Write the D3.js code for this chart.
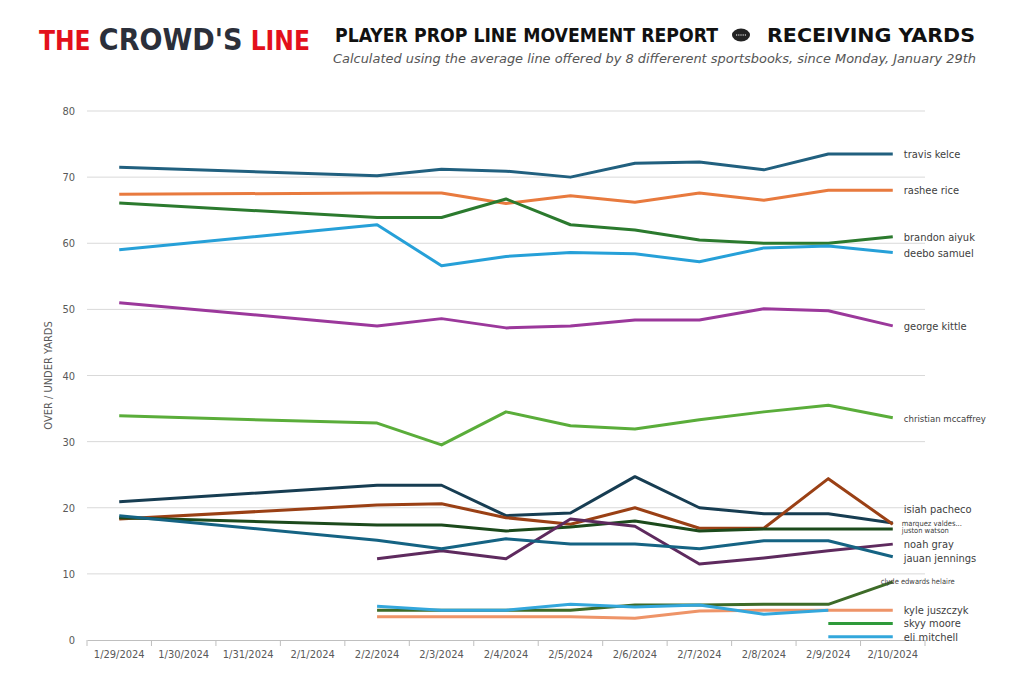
<!DOCTYPE html>
<html><head><meta charset="utf-8">
<script src="https://cdn.jsdelivr.net/npm/d3@7"></script>
<style>
body{margin:0;background:#fff;}
text{font-family:"DejaVu Sans Condensed","DejaVu Sans",sans-serif;}
</style></head>
<body><svg width="1017" height="691"></svg>
<script>
var dates = ["1/29/2024","1/30/2024","1/31/2024","2/1/2024","2/2/2024","2/3/2024","2/4/2024","2/5/2024","2/6/2024","2/7/2024","2/8/2024","2/9/2024","2/10/2024"]
var yTicks = [0,10,20,30,40,50,60,70,80]
var N = null
// values per date (null = no reading that day)
var travisKelce   = [71.5,N,N,N,70.2,71.2,70.9,70.0,72.1,72.3,71.1,73.5,73.5]
var rasheeRice    = [67.4,N,N,N,67.6,67.6,66.0,67.2,66.2,67.6,66.5,68.0,68.0]
var brandonAiyuk  = [66.1,N,N,N,63.9,63.9,66.7,62.8,62.0,60.5,60.0,60.0,61.0]
var deeboSamuel   = [59.0,N,N,N,62.8,56.6,58.0,58.6,58.4,57.2,59.3,59.6,58.6]
var georgeKittle  = [51.0,N,N,N,47.5,48.6,47.2,47.5,48.4,48.4,50.1,49.8,47.5]
var mccaffrey     = [33.9,N,N,N,32.8,29.5,34.5,32.4,31.9,33.3,34.5,35.5,33.6]
var isiahPacheco  = [20.9,N,N,N,23.4,23.4,18.8,19.2,24.7,20.0,19.1,19.1,17.7]
var marquezValdes = [18.3,N,N,N,20.4,20.6,18.5,17.5,20.0,16.9,16.9,24.4,17.5]
var justonWatson  = [18.5,N,N,N,17.4,17.4,16.5,17.1,18.0,16.5,16.8,16.8,16.8]
var noahGray      = [N,N,N,N,12.3,13.5,12.3,18.3,17.2,11.5,12.4,13.5,14.5]
var jauanJennings = [18.8,N,N,N,15.1,13.8,15.3,14.5,14.5,13.8,15.0,15.0,12.6]
var clydeEdwards  = [N,N,N,N,4.5,4.5,4.5,4.5,5.3,5.3,5.4,5.4,8.8]
var kyleJuszczyk  = [N,N,N,N,3.5,3.5,3.5,3.5,3.3,4.4,4.5,4.5,4.5]
var eliMitchell   = [N,N,N,N,5.1,4.5,4.5,5.4,5.0,5.3,3.9,4.5,N]
var skyyMoore     = [N,N,N,N,N,N,N,N,N,N,N,N,N]

var series = [
  {name:"travis kelce", values:travisKelce, color:"#21607f", label:73.5},
  {name:"rashee rice", values:rasheeRice, color:"#e87a3e", label:68.0},
  {name:"brandon aiyuk", values:brandonAiyuk, color:"#2b7a2e", label:61.0},
  {name:"deebo samuel", values:deeboSamuel, color:"#26a0d8", label:58.5},
  {name:"george kittle", values:georgeKittle, color:"#9b389b", label:47.5},
  {name:"christian mccaffrey", values:mccaffrey, color:"#5aad3a", label:33.6, small:true},
  {name:"isiah pacheco", values:isiahPacheco, color:"#173d52", label:19.8},
  {name:"marquez valdes...", values:marquezValdes, color:"#9a4015", label:17.6, tiny:true},
  {name:"juston watson", values:justonWatson, color:"#1c4a1c", label:16.5, tiny:true},
  {name:"noah gray", values:noahGray, color:"#5e2a5e", label:14.5},
  {name:"jauan jennings", values:jauanJennings, color:"#156383", label:12.4},
  {name:"clyde edwards helaire", values:clydeEdwards, color:"#3d6b28", label:8.8, tiny:true, shift:-12},
  {name:"kyle juszczyk", values:kyleJuszczyk, color:"#ee9468", label:4.5},
  {name:"skyy moore", values:skyyMoore, color:"#2e9a3a", label:2.5, legend:true},
  {name:"eli mitchell", values:eliMitchell, color:"#33a7dc", label:0.5, legend:true}
]

var svg = d3.select("svg")
var margin = {top:111, left:87, right:925, bottom:640}
var x = d3.scaleBand().domain(dates).range([margin.left, margin.right])
var y = d3.scaleLinear().domain([0,80]).range([margin.bottom, margin.top])
var cx = function(d){ return x(d) + x.bandwidth()/2 }

// header
var h = svg.append("text").attr("x",39).attr("y",50).attr("font-size",26).attr("font-weight","bold")
  .attr("textLength",271).attr("lengthAdjust","spacingAndGlyphs")
h.append("tspan").attr("fill","#e3101b").text("THE ")
h.append("tspan").attr("fill","#2b2f3a").attr("font-size",30).text("CROWD'S")
h.append("tspan").attr("fill","#e3101b").text(" LINE")
svg.append("text").attr("x",335).attr("y",42).attr("font-size",19).attr("font-weight","bold").attr("fill","#111")
  .attr("textLength",383).attr("lengthAdjust","spacingAndGlyphs")
  .text("PLAYER PROP LINE MOVEMENT REPORT")
svg.append("ellipse").attr("cx",741).attr("cy",35).attr("rx",9).attr("ry",6.5).attr("fill","#222")
svg.append("line").attr("x1",736).attr("x2",746).attr("y1",35).attr("y2",35).attr("stroke","#fff").attr("stroke-width",1.2).attr("stroke-dasharray","1.2,1")
svg.append("text").attr("x",767).attr("y",42).attr("font-size",19).attr("font-weight","bold").attr("fill","#111")
  .attr("textLength",208).attr("lengthAdjust","spacingAndGlyphs").text("RECEIVING YARDS")
svg.append("text").attr("x",333).attr("y",63).attr("font-size",13).attr("font-style","italic").attr("fill","#555")
  .attr("textLength",643).attr("lengthAdjust","spacingAndGlyphs")
  .text("Calculated using the average line offered by 8 differerent sportsbooks, since Monday, January 29th")

// grid
svg.append("g").selectAll("line").data(yTicks.slice(1)).join("line")
  .attr("x1",margin.left).attr("x2",margin.right).attr("y1",y).attr("y2",y)
  .attr("stroke","#d9d9d9")
svg.append("g").selectAll("text").data(yTicks).join("text")
  .attr("x",75).attr("y",function(d){return y(d)+4}).attr("text-anchor","end")
  .attr("font-size",11).attr("fill","#595959").text(function(d){return d})

var xAxis = svg.append("g").attr("transform","translate(0,"+margin.bottom+")")
  .call(d3.axisBottom(x).tickSize(0).tickPadding(10))
xAxis.select(".domain").attr("stroke","#bfbfbf")
xAxis.selectAll("text").attr("font-size",11).attr("fill","#595959").attr("font-family","DejaVu Sans Condensed")
svg.append("g").selectAll("line").data(dates.concat(["end"])).join("line")
  .attr("x1",function(d,i){return margin.left + i*x.step()}).attr("x2",function(d,i){return margin.left + i*x.step()})
  .attr("y1",margin.bottom).attr("y2",margin.bottom+6).attr("stroke","#bfbfbf")

svg.append("text").attr("transform","translate(52,"+((margin.top+margin.bottom)/2)+") rotate(-90)")
  .attr("text-anchor","middle").attr("font-size",11).attr("fill","#595959").text("OVER / UNDER YARDS")

var line = d3.line().x(function(d){return cx(d.date)}).y(function(d){return y(d.v)})

series.forEach(function(s){
  var pts = s.values.map(function(v,i){return {date:dates[i], v:v}}).filter(function(d){return d.v != null})
  svg.append("path").datum(pts).attr("fill","none").attr("stroke",s.color)
    .attr("stroke-width",3).attr("stroke-linejoin","round").attr("d",line)
  if(s.legend){
    svg.append("line").attr("x1",cx(dates[11])).attr("x2",cx(dates[12]))
      .attr("y1",y(s.label)).attr("y2",y(s.label)).attr("stroke",s.color).attr("stroke-width",3)
  }
  svg.append("text").attr("x",cx(dates[12]) + (s.shift || (s.tiny ? 9 : 11)))
    .attr("y",y(s.label) + (s.tiny ? 2 : 4))
    .attr("font-size", s.tiny ? 7.5 : (s.small ? 9.5 : 11)).attr("fill","#404040").text(s.name)
})
</script></body></html>
